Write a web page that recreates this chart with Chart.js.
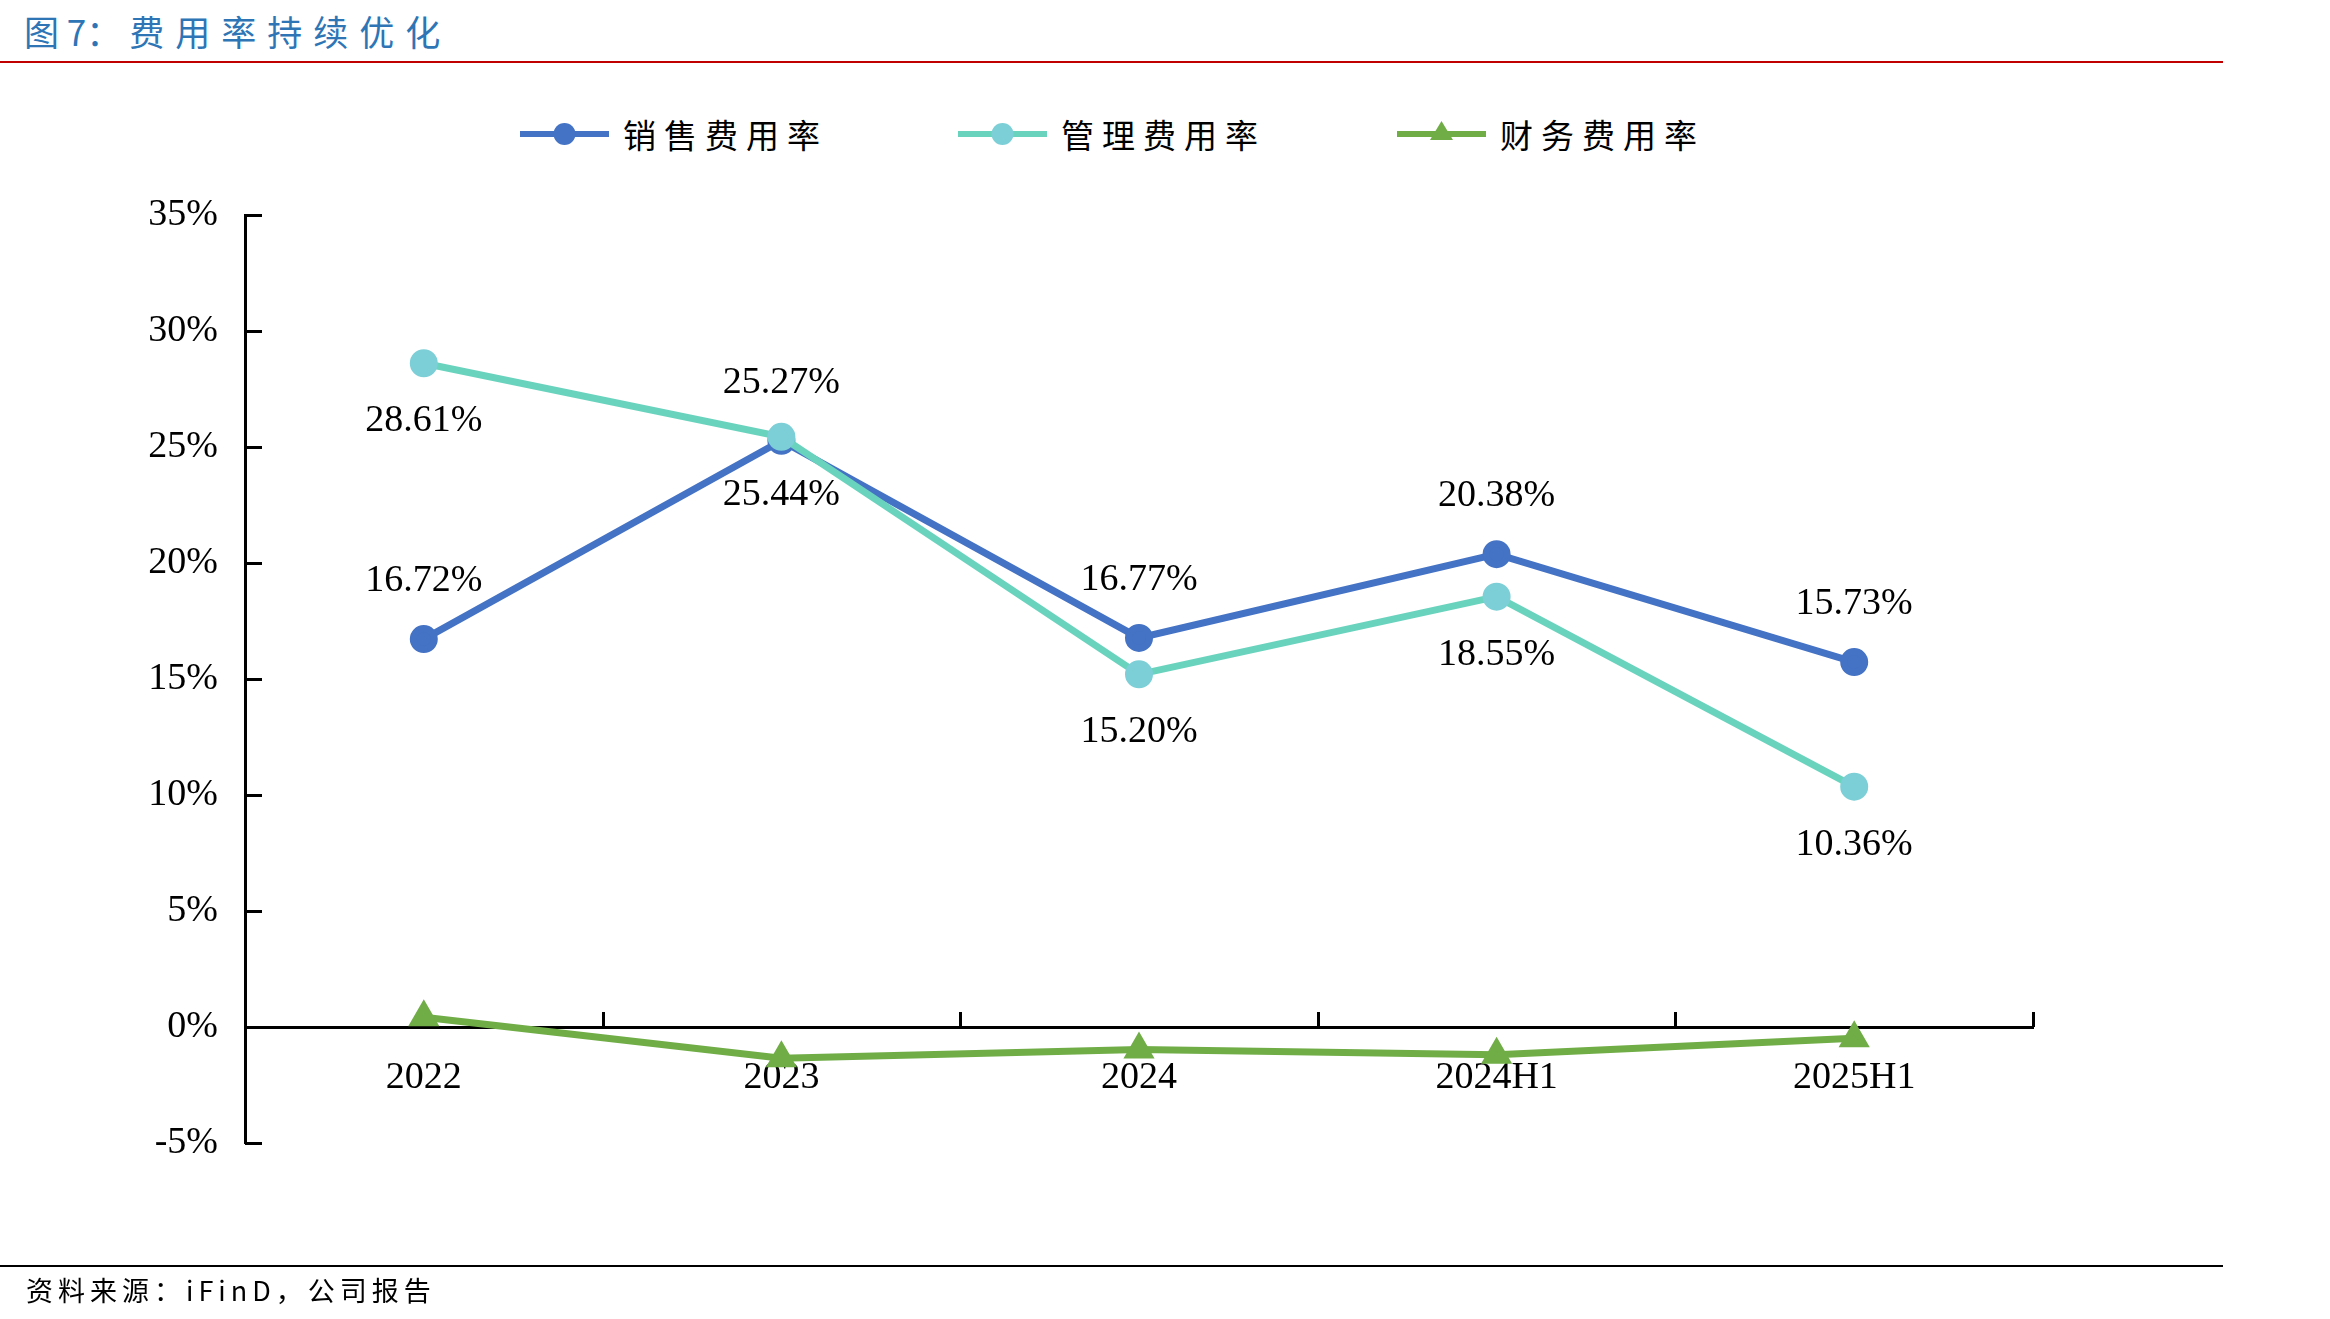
<!DOCTYPE html>
<html>
<head>
<meta charset="utf-8">
<script src="https://cdn.jsdelivr.net/npm/chart.js@4.4.1/dist/chart.umd.min.js"></script>
<style>
  body { margin: 0; width: 2330px; height: 1319px; position: relative; background: #fff; overflow: hidden; }
  #title { position: absolute; left: 24px; top: 5px; font: 35px 'Noto Sans CJK SC'; color: #2E75B6; white-space: nowrap; }
  #title b { font-weight: normal; letter-spacing: 11px; margin-left: 8px; }
  #redline { position: absolute; left: 0; top: 61px; width: 2223px; height: 2px; background: #C00000; }
  #footline { position: absolute; left: 0; top: 1265px; width: 2223px; height: 2px; background: #000; }
  #source { position: absolute; left: 26px; top: 1270px; font: 27px 'Noto Sans CJK SC'; letter-spacing: 5px; color: #000; white-space: nowrap; }
  .lg { position: absolute; top: 114px; height: 40px; display: flex; align-items: center; }
  .lg span { font: 33px 'Noto Sans CJK SC'; letter-spacing: 8px; color: #000; margin-left: 14px; }
  canvas { position: absolute; left: 0; top: 0; }
</style>
</head>
<body>
<div id="title">图 7：<b>费用率持续优化</b></div>
<div id="redline"></div>
<div id="legend"></div>
<canvas id="chart" width="2330" height="1319"></canvas>
<div id="footline"></div>
<div id="source">资料来源：iFinD，公司报告</div>
<script>
// 数据
const categories = ['2022', '2023', '2024', '2024H1', '2025H1'];
const seriesNames = ['销售费用率', '管理费用率', '财务费用率'];
const salesRate = [16.72, 25.27, 16.77, 20.38, 15.73];
const adminRate = [28.61, 25.44, 15.20, 18.55, 10.36];
const financeRate = [0.42, -1.35, -0.97, -1.20, -0.48];
const yTicks = [-5, 0, 5, 10, 15, 20, 25, 30, 35];

const serif = 'Liberation Serif';

// 刻度线（朝内）
const tickMarks = {
    id: 'tickMarks',
    afterDraw(chart) {
        const { ctx, scales: { x, y } } = chart;
        ctx.save();
        ctx.strokeStyle = '#000';
        ctx.lineWidth = 3;
        ctx.beginPath();
        yTicks.forEach(v => {
            const py = Math.round(y.getPixelForValue(v)) + 0.5;
            ctx.moveTo(y.right, py);
            ctx.lineTo(y.right + 17, py);
        });
        const y0 = y.getPixelForValue(0);
        const half = (x.getPixelForValue(1) - x.getPixelForValue(0)) / 2;
        categories.forEach((c, i) => {
            const px = Math.round(x.getPixelForValue(i) + half) + 0.5;
            ctx.moveTo(px, y0);
            ctx.lineTo(px, y0 - 15);
        });
        ctx.stroke();
        ctx.restore();
    }
};

// 数据标签
const valueLabels = {
    id: 'valueLabels',
    afterDatasetsDraw(chart) {
        const ctx = chart.ctx;
        ctx.save();
        ctx.font = `38px '${serif}'`;
        ctx.fillStyle = '#000';
        ctx.textAlign = 'center';
        ctx.textBaseline = 'middle';
        chart.data.datasets.forEach((ds, di) => {
            if (!ds.labelSide) return;
            const meta = chart.getDatasetMeta(di);
            meta.data.forEach((pt, i) => {
                const dy = ds.labelSide === 'top' ? -58 : 58;
                ctx.fillText(ds.data[i].toFixed(2) + '%', pt.x, pt.y + dy);
            });
        });
        ctx.restore();
    }
};

const ctx = document.getElementById('chart').getContext('2d');
const chart = new Chart(ctx, {
    type: 'line',
    data: {
        labels: categories,
        datasets: [
            {
                label: seriesNames[0],
                data: salesRate,
                order: 1,
                borderColor: '#4472C4',
                backgroundColor: '#4472C4',
                pointBackgroundColor: '#4472C4',
                pointBorderColor: '#4472C4',
                borderWidth: 7,
                pointRadius: 10.5,
                pointStyle: 'circle',
                labelSide: 'top'
            },
            {
                label: seriesNames[1],
                data: adminRate,
                order: 0,
                borderColor: '#6AD3BE',
                backgroundColor: '#7CCFD6',
                pointBackgroundColor: '#7CCFD6',
                pointBorderColor: '#7CCFD6',
                borderWidth: 7,
                pointRadius: 10.5,
                pointStyle: 'circle',
                labelSide: 'bottom'
            },
            {
                label: seriesNames[2],
                data: financeRate,
                order: 2,
                borderColor: '#70AD47',
                backgroundColor: '#70AD47',
                pointBackgroundColor: '#70AD47',
                pointBorderColor: '#70AD47',
                borderWidth: 7,
                pointRadius: 11,
                pointStyle: 'triangle'
            }
        ]
    },
    options: {
        responsive: false,
        animation: false,
        devicePixelRatio: 1,
        layout: { padding: { left: 0, top: 215, right: 297, bottom: 176 } },
        plugins: {
            legend: { display: false },
            tooltip: { enabled: false }
        },
        scales: {
            x: {
                type: 'category',
                position: { y: 0 },
                offset: true,
                grid: { drawOnChartArea: false, drawTicks: false, offset: true },
                border: { color: '#000', width: 3 },
                ticks: { color: '#000', font: { family: serif, size: 38 }, padding: 28, maxRotation: 0 }
            },
            y: {
                min: -5,
                max: 35,
                afterFit(scale) { scale.width = 245; },
                grid: { drawOnChartArea: false, drawTicks: false },
                border: { color: '#000', width: 3 },
                ticks: {
                    stepSize: 5,
                    color: '#000',
                    padding: 27,
                    font: { family: serif, size: 38 },
                    callback: v => v + '%'
                }
            }
        }
    },
    plugins: [tickMarks, valueLabels]
});

// 图例（线 + 标记）
const legendLeft = [520, 958, 1397];
const legendBox = document.getElementById('legend');
chart.data.datasets.forEach((ds, i) => {
    const item = document.createElement('div');
    item.className = 'lg';
    item.style.left = legendLeft[i] + 'px';
    const marker = ds.pointStyle === 'triangle'
        ? `<polygon points="44.5,5 56,24 33,24" fill="${ds.pointBackgroundColor}"/>`
        : `<circle cx="44.5" cy="18" r="11" fill="${ds.pointBackgroundColor}"/>`;
    item.innerHTML = `<svg width="89" height="36"><line x1="0" y1="18" x2="89" y2="18" stroke="${ds.borderColor}" stroke-width="6"/>${marker}</svg><span>${ds.label}</span>`;
    legendBox.appendChild(item);
});
</script>
</body>
</html>
